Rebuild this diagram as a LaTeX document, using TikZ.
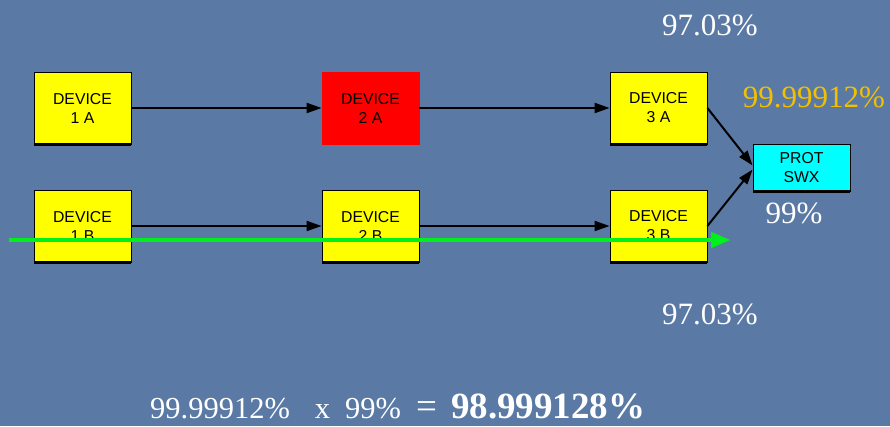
\documentclass[tikz,border=0pt]{standalone}
\usepackage{fontspec}
\setmainfont{Liberation Serif}
\newfontfamily\boxfont{Liberation Sans}
\usetikzlibrary{arrows.meta}

\definecolor{slidebg}{RGB}{90,122,165}
\definecolor{devyellow}{RGB}{255,255,0}
\definecolor{devred}{RGB}{255,0,0}
\definecolor{protcyan}{RGB}{0,255,255}
\definecolor{pathgreen}{RGB}{0,240,30}
\definecolor{goldtext}{RGB}{242,192,0}

\begin{document}
\begin{tikzpicture}[x=1pt,y=-1pt,
  device/.style={draw=black, line width=0.8pt, fill=devyellow,
    minimum width=97pt, minimum height=72pt, inner sep=0pt, align=center,
    font=\boxfont\fontsize{15.8}{19}\selectfont},
  faileddevice/.style={device, draw=devred, fill=devred},
  protbox/.style={device, fill=protcyan, minimum height=47pt},
  conn/.style={draw=black, line width=2pt,
    -{Triangle[length=15pt,width=10pt]}},
  greenpath/.style={draw=pathgreen, line width=4.5pt,
    -{Triangle[length=20pt,width=15pt]}},
  pct/.style={anchor=base, text=white, inner sep=0pt,
    font=\fontsize{31}{36}\selectfont},
  shadowedge/.style={draw=black, line width=2.2pt}
]
% slide background
\fill[slidebg] (0,0) rectangle (890,426);
\useasboundingbox (0,0) rectangle (890,426);

% devices
\node[device]       (d1a) at (82.5,108)  {DEVICE\\1 A};
\node[faileddevice] (d2a) at (370.5,108) {DEVICE\\2 A};
\node[device]       (d3a) at (658.5,108) {DEVICE\\3 A};
\node[device]       (d1b) at (82.5,226)  {DEVICE\\1 B};
\node[device]       (d2b) at (370.5,226) {DEVICE\\2 B};
\node[device]       (d3b) at (658.5,226) {DEVICE\\3 B};
\node[protbox]      (prot) at (801.5,167.5) {PROT\\SWX};

% heavier bottom edges
\foreach \n in {d1a,d3a,d1b,d2b,d3b,prot}
  \draw[shadowedge] (\n.south west) -- (\n.south east);

% connectors
\draw[conn] (d1a) -- (d2a);
\draw[conn] (d2a) -- (d3a);
\draw[conn] (d1b) -- (d2b);
\draw[conn] (d2b) -- (d3b);
\draw[conn] (d3a.east) -- ([yshift=2pt]prot.west);
\draw[conn] (d3b.east) -- ([yshift=-2pt]prot.west);

% surviving path
\coordinate (gstart) at (9,240);
\coordinate (gend) at (731,240);
\draw[greenpath] (gstart) -- (gend);

% availability figures
\node[pct] (topchain) at (710,35) {97.03\%};
\node[pct] (botchain) at (710,324) {97.03\%};
\node[pct, text=goldtext] (parallel) at (814,107) {99.99912\%};
\node[pct] (swx) at (794,223) {99\%};

\node[anchor=base west, text=white, inner sep=0pt,
      font=\fontsize{30.5}{36}\selectfont] (total) at (150,418)
  {99.99912\%\hspace{25pt}x\hspace{15pt}99\%\hspace{15pt}{\fontsize{37}{40}\selectfont =}\hspace{14pt}{\bfseries\fontsize{37}{40}\selectfont 98.999128\%}};
\end{tikzpicture}
\end{document}
